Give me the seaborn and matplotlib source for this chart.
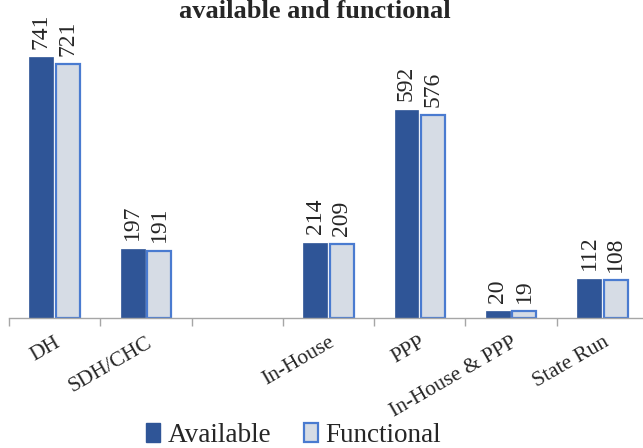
import numpy as np
import pandas as pd
import matplotlib
matplotlib.use("Agg")
import matplotlib.pyplot as plt
import seaborn as sns

# Facility categories (third slot is an intentional spacer between groups)
categories = ["DH", "SDH/CHC", "", "In-House", "PPP", "In-House & PPP", "State Run"]
available = [741, 197, np.nan, 214, 592, 20, 112]
functional = [721, 191, np.nan, 209, 576, 19, 108]
series = ["Available", "Functional"]
title_text = "available and functional"

df = pd.DataFrame({
    "category": categories * 2,
    "status": [series[0]] * len(categories) + [series[1]] * len(categories),
    "count": available + functional,
})

sns.set_theme(style="white")
plt.rcParams["font.family"] = ["Liberation Serif", "DejaVu Serif"]

W, H = 643, 448
fig = plt.figure(figsize=(W / 100, H / 100), dpi=100)
ax_left, ax_right = 9 / W, 648 / W
ax_bottom = (H - 318) / H
ax = fig.add_axes([ax_left, ax_bottom, ax_right - ax_left, 1 - ax_bottom])

dark_blue = "#2F5597"
light_fill = "#D6DCE5"
light_edge = "#4A7BD0"

sns.barplot(
    data=df, x="category", y="count", hue="status",
    order=categories, hue_order=series,
    palette=[dark_blue, light_fill], width=0.58, gap=0.1,
    ax=ax, legend=False, saturation=1,
)

# outline the lighter series
for i, container in enumerate(ax.containers):
    for patch in container:
        if i == 1:
            patch.set_edgecolor(light_edge)
            patch.set_linewidth(1.6)
        else:
            patch.set_edgecolor(dark_blue)
            patch.set_linewidth(0.5)
    labels = ["" if (v is None or np.isnan(v)) else f"{int(v)}" for v in container.datavalues]
    ax.bar_label(container, labels=labels, rotation=90, padding=6, fontsize=17)

ax.set_xlim(-0.5, len(categories) - 0.5)
ax.set_ylim(0, 903)
ax.set_xlabel("")
ax.set_ylabel("")
ax.set_yticks([])
for side in ["left", "right", "top"]:
    ax.spines[side].set_visible(False)
ax.spines["bottom"].set_color("#A6A6A6")
ax.spines["bottom"].set_linewidth(1.0)

# category labels at the centres, tick marks on the boundaries
ax.set_xticks(range(len(categories)))
ax.set_xticklabels(categories, rotation=30, ha="right", rotation_mode="anchor", fontsize=15.5)
ax.tick_params(axis="x", which="major", length=0, pad=11)
ax.set_xticks(np.arange(-0.5, len(categories), 1.0), minor=True)
ax.tick_params(axis="x", which="minor", length=6, width=1, color="#A6A6A6", direction="out", bottom=True)

fig.text(0.49, 1 - 18 / H, title_text, ha="center", va="baseline",
         fontsize=19, fontweight="bold")

handles = [
    plt.Rectangle((0, 0), 1, 1, facecolor=dark_blue, edgecolor=dark_blue),
    plt.Rectangle((0, 0), 1, 1, facecolor=light_fill, edgecolor=light_edge, linewidth=1.6),
]
fig.legend(handles, series, loc="lower center", bbox_to_anchor=(0.457, -0.055),
           ncol=2, frameon=False, fontsize=19.5, handlelength=0.5, handleheight=0.7,
           handletextpad=0.3, columnspacing=1.2)

fig.savefig("out.png", dpi=100)
